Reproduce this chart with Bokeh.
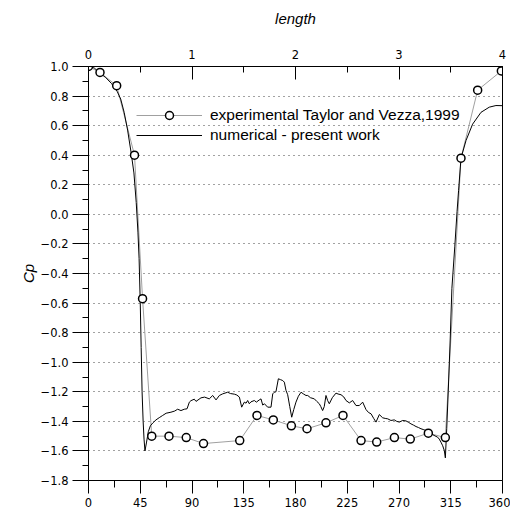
from bokeh.plotting import figure
from bokeh.models import Range1d, LinearAxis, FixedTicker, CustomJSTickFormatter, Legend, LegendItem
from bokeh.embed import file_html
from bokeh.resources import INLINE

# experimental data (Taylor and Vezza, 1999)
exp_angle = [0, 10, 24.5, 40, 47, 55, 70, 85, 100, 131.5, 146.5, 160.7, 176.4, 190,
             206.5, 221.3, 237, 250.6, 266, 279.8, 295.5, 310.3, 323.9, 338.4, 359]
exp_cp = [1.0, 0.96, 0.87, 0.40, -0.57, -1.50, -1.50, -1.51, -1.55, -1.53, -1.36, -1.39,
          -1.43, -1.45, -1.41, -1.36, -1.53, -1.54, -1.51, -1.52, -1.48, -1.51, 0.38, 0.84, 0.97]

# numerical - present work
num_angle = [0, 5, 10, 15, 20, 25, 28, 31, 34, 37, 39.5, 41.5, 43, 44, 45, 45.8, 46.6, 47.5,
             48.3, 49.1, 50.5, 52, 53.8, 56, 58.7, 61.5, 64.5, 67.5, 71.7, 75, 77.5, 80.4,
             83.3, 85.7, 87.7, 89.1, 92, 93.5, 97.8, 101, 105, 108, 110.9, 113.8, 116.7, 121,
             123.5, 126.8, 129, 131.2, 133.2, 135.5, 137, 138.4, 139.8, 141.3, 144.2, 146,
             148.5, 150, 151.5, 153, 155.8, 158.7, 160.2, 161.6, 163, 165.1, 167, 168.9,
             170.3, 171.7, 173.2, 175, 176.7, 178.5, 180.4, 182.5, 184.8, 187, 189.1, 190.6,
             193, 196.4, 198.5, 200.7, 202, 203.6, 205, 206.5, 208, 209.4, 212, 215.2, 217,
             219.6, 222, 223.9, 226.8, 229.7, 232.6, 235.5, 238.4, 241.3, 243.5, 245.7, 248,
             250, 252.9, 255.8, 258, 260.2, 263, 265.9, 268, 270.3, 273.2, 276.1, 278, 280.4,
             282.5, 284.8, 287, 289.1, 291, 293.5, 295.5, 297.8, 300.5, 303.6, 305, 306.5,
             308, 309.4, 310.3, 311.5, 312.8, 314.5, 316, 318.5, 320.5, 321.8, 323.9, 328.3,
             334, 341.3, 348.5, 354.3, 360]
num_cp = [1.0, 0.99, 0.955, 0.925, 0.885, 0.83, 0.78, 0.69, 0.57, 0.42, 0.28, 0.08, -0.12,
          -0.30, -0.60, -0.90, -1.20, -1.40, -1.52, -1.60, -1.54, -1.47, -1.43, -1.41, -1.39,
          -1.375, -1.36, -1.345, -1.338, -1.33, -1.318, -1.327, -1.318, -1.315, -1.27, -1.26,
          -1.25, -1.265, -1.241, -1.236, -1.248, -1.225, -1.255, -1.225, -1.214, -1.203,
          -1.212, -1.216, -1.222, -1.236, -1.304, -1.270, -1.277, -1.259, -1.281, -1.268,
          -1.259, -1.27, -1.255, -1.248, -1.29, -1.281, -1.304, -1.304, -1.214, -1.203,
          -1.20, -1.112, -1.118, -1.124, -1.135, -1.19, -1.22, -1.30, -1.372, -1.32, -1.27,
          -1.23, -1.203, -1.215, -1.225, -1.225, -1.24, -1.248, -1.265, -1.281, -1.30,
          -1.327, -1.30, -1.225, -1.26, -1.281, -1.24, -1.209, -1.215, -1.22, -1.235,
          -1.259, -1.275, -1.259, -1.293, -1.293, -1.270, -1.32, -1.34, -1.349, -1.38,
          -1.405, -1.354, -1.376, -1.38, -1.383, -1.394, -1.390, -1.40, -1.405, -1.394,
          -1.397, -1.405, -1.417, -1.425, -1.435, -1.442, -1.45, -1.455, -1.462, -1.472,
          -1.484, -1.495, -1.507, -1.52, -1.541, -1.565, -1.597, -1.647, -1.45, -1.20,
          -0.85, -0.50, -0.22, 0.02, 0.16, 0.38, 0.50, 0.61, 0.69, 0.725, 0.736, 0.735]

x_ticks = [0, 45, 90, 135, 180, 225, 270, 315, 360]
x_minor = [22.5, 67.5, 112.5, 157.5, 202.5, 247.5, 292.5, 337.5]
y_ticks = [-1.8, -1.6, -1.4, -1.2, -1.0, -0.8, -0.6, -0.4, -0.2, 0.0, 0.2, 0.4, 0.6, 0.8, 1.0]
y_minor = [-1.7, -1.5, -1.3, -1.1, -0.9, -0.7, -0.5, -0.3, -0.1, 0.1, 0.3, 0.5, 0.7, 0.9]
len_ticks = [0, 1, 2, 3, 4]
len_minor = [0.5, 1.5, 2.5, 3.5]

TICK_FONT = "DejaVu Sans"
TICK_SIZE = "11.5px"
LABEL_FONT = "Liberation Sans"

p = figure(width=510, height=517, x_range=Range1d(0, 360), y_range=Range1d(-1.8, 1.0),
           output_backend="svg", toolbar_location=None,
           min_border_left=88, min_border_right=8, min_border_top=66, min_border_bottom=37)
p.background_fill_color = "white"
p.outline_line_color = "black"
p.outline_line_width = 1

# bottom axis
xa = p.xaxis[0]
xa.ticker = FixedTicker(ticks=x_ticks, minor_ticks=x_minor)
xa.major_tick_out = 13
xa.major_tick_in = 0
xa.minor_tick_out = 7
xa.minor_tick_in = 0
xa.major_label_standoff = 4
xa.major_label_text_font = TICK_FONT
xa.major_label_text_font_size = TICK_SIZE
xa.major_label_text_color = "black"
xa.axis_line_color = "black"
xa.major_tick_line_color = "black"
xa.minor_tick_line_color = "black"

# left axis
ya = p.yaxis[0]
yt = FixedTicker(ticks=y_ticks, minor_ticks=y_minor)
ya.ticker = yt
ya.formatter = CustomJSTickFormatter(code="return tick.toFixed(1).replace('-', '\u2212');")
ya.major_tick_out = 16
ya.major_tick_in = 0
ya.minor_tick_out = 6
ya.minor_tick_in = 0
ya.major_label_standoff = 4
ya.major_label_text_font = TICK_FONT
ya.major_label_text_font_size = TICK_SIZE
ya.major_label_text_color = "black"
ya.axis_label = "Cp"
ya.axis_label_text_font = LABEL_FONT
ya.axis_label_text_font_style = "italic"
ya.axis_label_text_font_size = "15px"
ya.axis_label_text_color = "black"
ya.axis_label_standoff = 1
ya.axis_line_color = "black"
ya.major_tick_line_color = "black"
ya.minor_tick_line_color = "black"

# top axis
p.extra_x_ranges = {"length": Range1d(0, 4)}
top = LinearAxis(x_range_name="length", ticker=FixedTicker(ticks=len_ticks, minor_ticks=len_minor),
                 axis_label="length")
top.major_tick_in = 13
top.major_tick_out = 0
top.minor_tick_in = 6
top.minor_tick_out = 0
top.major_label_standoff = 8
top.major_label_text_font = TICK_FONT
top.major_label_text_font_size = TICK_SIZE
top.major_label_text_color = "black"
top.axis_label_text_font = LABEL_FONT
top.axis_label_text_font_style = "italic"
top.axis_label_text_font_size = "15px"
top.axis_label_text_color = "black"
top.axis_label_standoff = 20
top.axis_line_color = "black"
top.major_tick_line_color = "black"
top.minor_tick_line_color = "black"
p.add_layout(top, "above")

# grid
p.xgrid.visible = False
p.ygrid.ticker = yt
p.ygrid.grid_line_color = "#444444"
p.ygrid.grid_line_dash = "1 4"
p.ygrid.grid_line_width = 1

exp_line = p.line(exp_angle, exp_cp, line_color="#a0a0a0", line_width=1)
num_line = p.line(num_angle, num_cp, line_color="black", line_width=1)
exp_pts = p.scatter(exp_angle, exp_cp, marker="circle", size=8, fill_color="white",
                    line_color="black", line_width=1.5)

legend = Legend(items=[
    LegendItem(label="experimental Taylor and Vezza,1999", renderers=[exp_line, exp_pts]),
    LegendItem(label="numerical - present work", renderers=[num_line]),
], location=(48, 335))
legend.background_fill_alpha = 0
legend.border_line_alpha = 0
legend.padding = 0
legend.spacing = 0
legend.margin = 0
legend.glyph_width = 66
legend.glyph_height = 20
legend.label_height = 20
legend.label_standoff = 8
legend.label_text_font = LABEL_FONT
legend.label_text_font_size = "15.5px"
legend.label_text_color = "black"
p.add_layout(legend)

open("out.html", "w").write(file_html(p, INLINE))
